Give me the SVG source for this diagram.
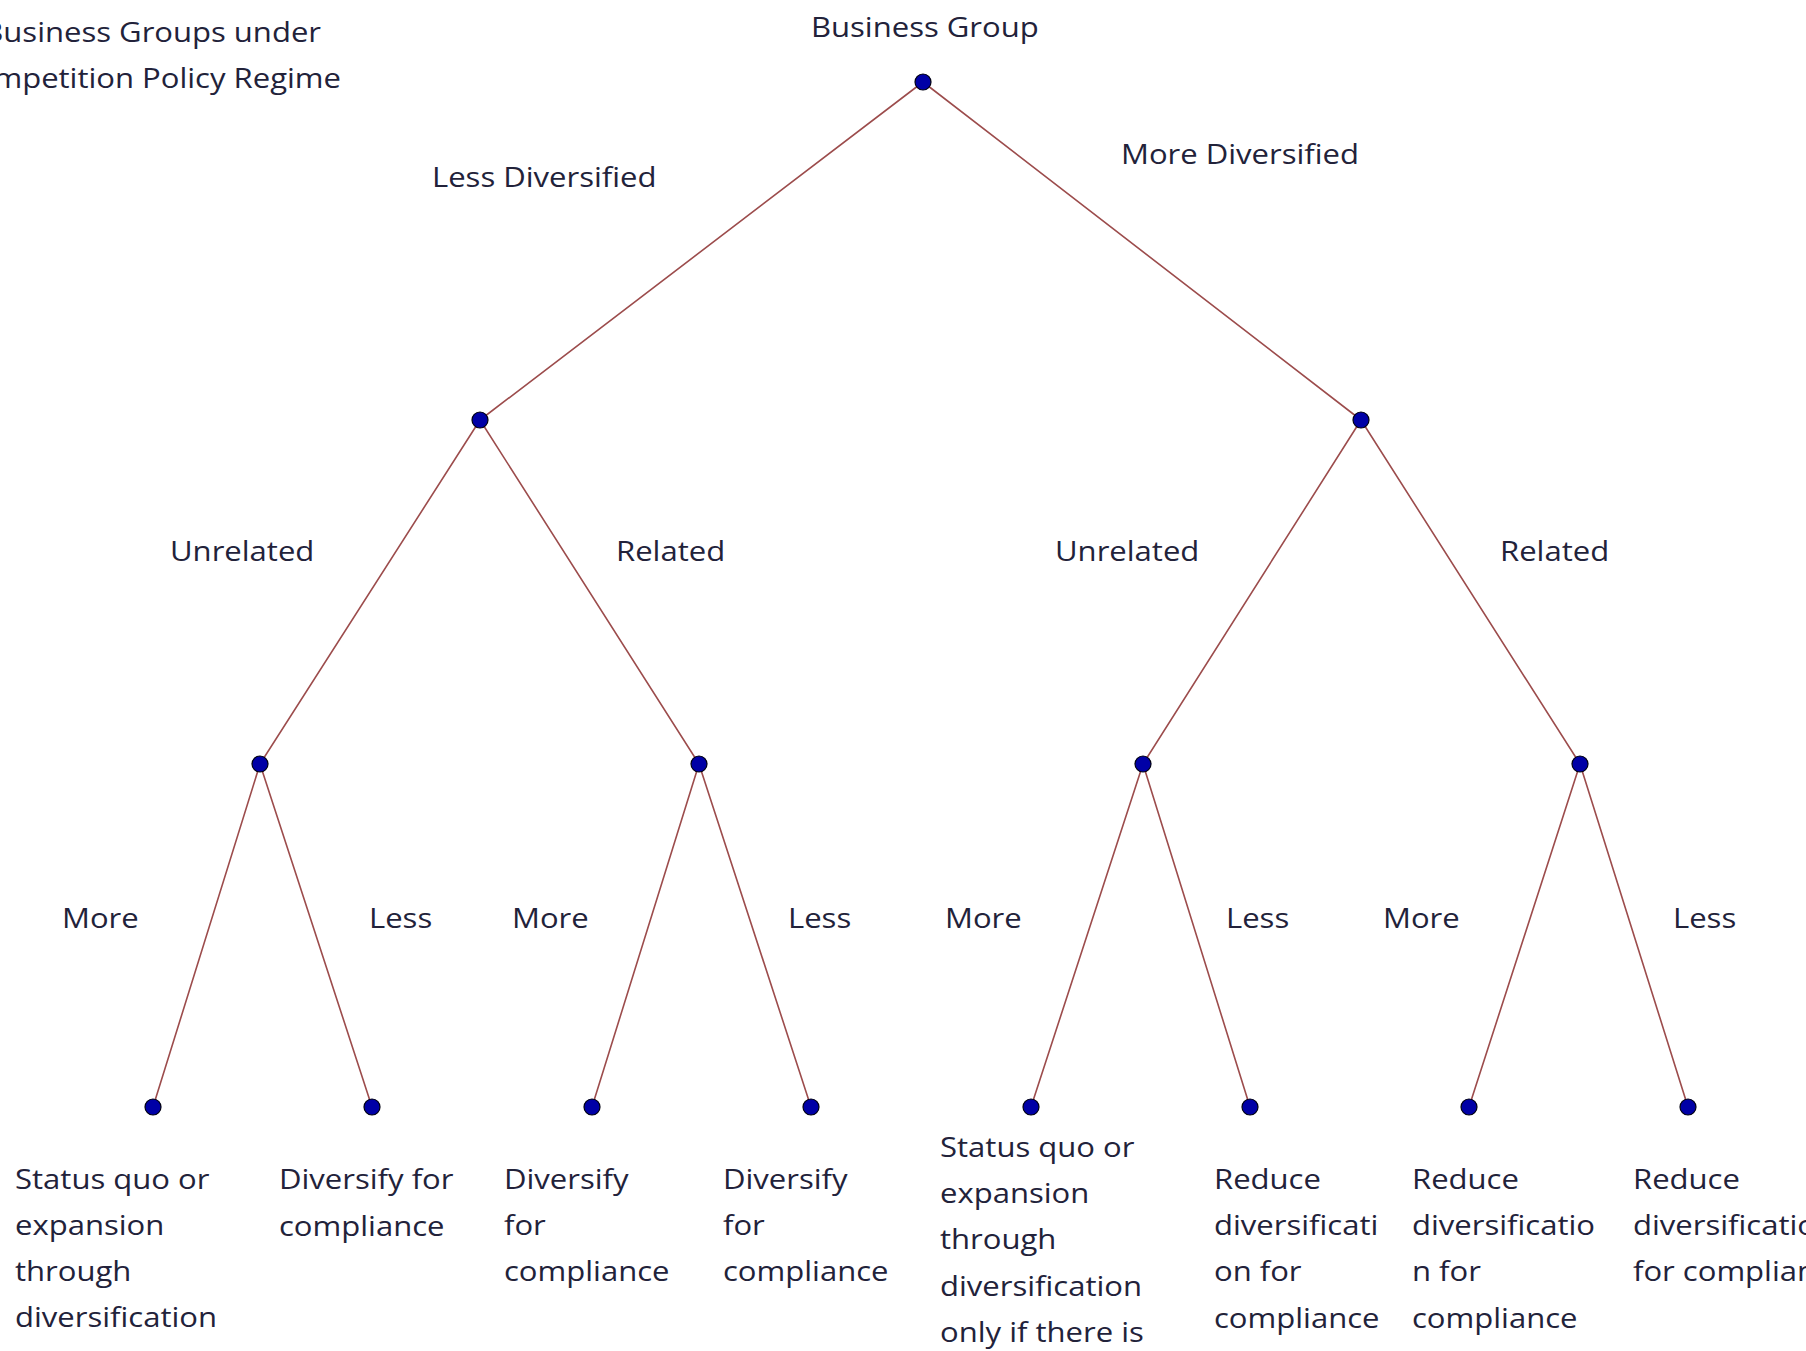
<svg xmlns="http://www.w3.org/2000/svg" width="1806" height="1351" viewBox="0 0 1806 1351">
  <defs>
    <style>
      .bg { fill: #ffffff; }
      .edge { stroke: #9c4c4c; stroke-width: 1.6; fill: none; stroke-linecap: round; }
      .dot { fill: #0000a6; stroke: #000010; stroke-width: 1.2; }
      .t { font-family: "Open Sans", "Liberation Sans", sans-serif; font-size: 27px; fill: #22223a; }
      .end { text-anchor: end; }
    </style>
  </defs>

  <rect class="bg" x="0" y="0" width="1806" height="1351"/>

  <!-- heading, partly cut at the left edge -->
  <g id="heading">
    <text class="t end" transform="translate(321,42) scale(1.15,1)">Business Groups under</text>
    <text class="t end" transform="translate(341,88) scale(1.15,1)">Competition Policy Regime</text>
  </g>

  <!-- tree edges and their branch labels -->
  <g id="connectors">
    <line class="edge" x1="923" y1="82" x2="480" y2="420"/>
    <line class="edge" x1="923" y1="82" x2="1361" y2="420"/>

    <line class="edge" x1="480" y1="420" x2="260" y2="764"/>
    <line class="edge" x1="480" y1="420" x2="699" y2="764"/>
    <line class="edge" x1="1361" y1="420" x2="1143" y2="764"/>
    <line class="edge" x1="1361" y1="420" x2="1580" y2="764"/>

    <line class="edge" x1="260" y1="764" x2="153" y2="1107"/>
    <line class="edge" x1="260" y1="764" x2="372" y2="1107"/>
    <line class="edge" x1="699" y1="764" x2="592" y2="1107"/>
    <line class="edge" x1="699" y1="764" x2="811" y2="1107"/>
    <line class="edge" x1="1143" y1="764" x2="1031" y2="1107"/>
    <line class="edge" x1="1143" y1="764" x2="1250" y2="1107"/>
    <line class="edge" x1="1580" y1="764" x2="1469" y2="1107"/>
    <line class="edge" x1="1580" y1="764" x2="1688" y2="1107"/>

    <g id="branch-labels">
      <text class="t" transform="translate(432,187) scale(1.15,1)">Less Diversified</text>
      <text class="t" transform="translate(1121,164) scale(1.15,1)">More Diversified</text>

      <text class="t" transform="translate(170,561) scale(1.15,1)">Unrelated</text>
      <text class="t" transform="translate(616,561) scale(1.15,1)">Related</text>
      <text class="t" transform="translate(1055,561) scale(1.15,1)">Unrelated</text>
      <text class="t" transform="translate(1500,561) scale(1.15,1)">Related</text>

      <text class="t" transform="translate(62,928) scale(1.15,1)">More</text>
      <text class="t" transform="translate(369,928) scale(1.15,1)">Less</text>
      <text class="t" transform="translate(512,928) scale(1.15,1)">More</text>
      <text class="t" transform="translate(788,928) scale(1.15,1)">Less</text>
      <text class="t" transform="translate(945,928) scale(1.15,1)">More</text>
      <text class="t" transform="translate(1226,928) scale(1.15,1)">Less</text>
      <text class="t" transform="translate(1383,928) scale(1.15,1)">More</text>
      <text class="t" transform="translate(1673,928) scale(1.15,1)">Less</text>
    </g>
  </g>

  <!-- decision nodes -->
  <g id="node-root">
    <circle class="dot" cx="923" cy="82" r="8"/>
    <text class="t" transform="translate(811,37) scale(1.15,1)">Business Group</text>
  </g>
  <g id="node-less-div"><circle class="dot" cx="480" cy="420" r="8"/></g>
  <g id="node-more-div"><circle class="dot" cx="1361" cy="420" r="8"/></g>

  <g id="node-less-unrelated"><circle class="dot" cx="260" cy="764" r="8"/></g>
  <g id="node-less-related"><circle class="dot" cx="699" cy="764" r="8"/></g>
  <g id="node-more-unrelated"><circle class="dot" cx="1143" cy="764" r="8"/></g>
  <g id="node-more-related"><circle class="dot" cx="1580" cy="764" r="8"/></g>

  <!-- outcomes -->
  <g id="leaf-1">
    <circle class="dot" cx="153" cy="1107" r="8"/>
    <text class="t" transform="translate(15,1189) scale(1.15,1)">
      <tspan x="0" y="0">Status quo or</tspan>
      <tspan x="0" y="46">expansion</tspan>
      <tspan x="0" y="92">through</tspan>
      <tspan x="0" y="138">diversification</tspan>
    </text>
  </g>
  <g id="leaf-2">
    <circle class="dot" cx="372" cy="1107" r="8"/>
    <text class="t" transform="translate(279,1189) scale(1.15,1)">
      <tspan x="0" y="0">Diversify for</tspan>
      <tspan x="0" y="47">compliance</tspan>
    </text>
  </g>
  <g id="leaf-3">
    <circle class="dot" cx="592" cy="1107" r="8"/>
    <text class="t" transform="translate(504,1189) scale(1.15,1)">
      <tspan x="0" y="0">Diversify</tspan>
      <tspan x="0" y="46">for</tspan>
      <tspan x="0" y="92">compliance</tspan>
    </text>
  </g>
  <g id="leaf-4">
    <circle class="dot" cx="811" cy="1107" r="8"/>
    <text class="t" transform="translate(723,1189) scale(1.15,1)">
      <tspan x="0" y="0">Diversify</tspan>
      <tspan x="0" y="46">for</tspan>
      <tspan x="0" y="92">compliance</tspan>
    </text>
  </g>
  <g id="leaf-5">
    <circle class="dot" cx="1031" cy="1107" r="8"/>
    <text class="t" transform="translate(940,1157) scale(1.15,1)">
      <tspan x="0" y="0">Status quo or</tspan>
      <tspan x="0" y="46">expansion</tspan>
      <tspan x="0" y="92">through</tspan>
      <tspan x="0" y="139">diversification</tspan>
      <tspan x="0" y="185">only if there is</tspan>
    </text>
  </g>
  <g id="leaf-6">
    <circle class="dot" cx="1250" cy="1107" r="8"/>
    <text class="t" transform="translate(1214,1189) scale(1.15,1)">
      <tspan x="0" y="0">Reduce</tspan>
      <tspan x="0" y="46">diversificati</tspan>
      <tspan x="0" y="92">on for</tspan>
      <tspan x="0" y="139">compliance</tspan>
    </text>
  </g>
  <g id="leaf-7">
    <circle class="dot" cx="1469" cy="1107" r="8"/>
    <text class="t" transform="translate(1412,1189) scale(1.15,1)">
      <tspan x="0" y="0">Reduce</tspan>
      <tspan x="0" y="46">diversificatio</tspan>
      <tspan x="0" y="92">n for</tspan>
      <tspan x="0" y="139">compliance</tspan>
    </text>
  </g>
  <g id="leaf-8">
    <circle class="dot" cx="1688" cy="1107" r="8"/>
    <text class="t" transform="translate(1633,1189) scale(1.15,1)">
      <tspan x="0" y="0">Reduce</tspan>
      <tspan x="0" y="46">diversification</tspan>
      <tspan x="0" y="92">for compliance</tspan>
    </text>
  </g>
</svg>
